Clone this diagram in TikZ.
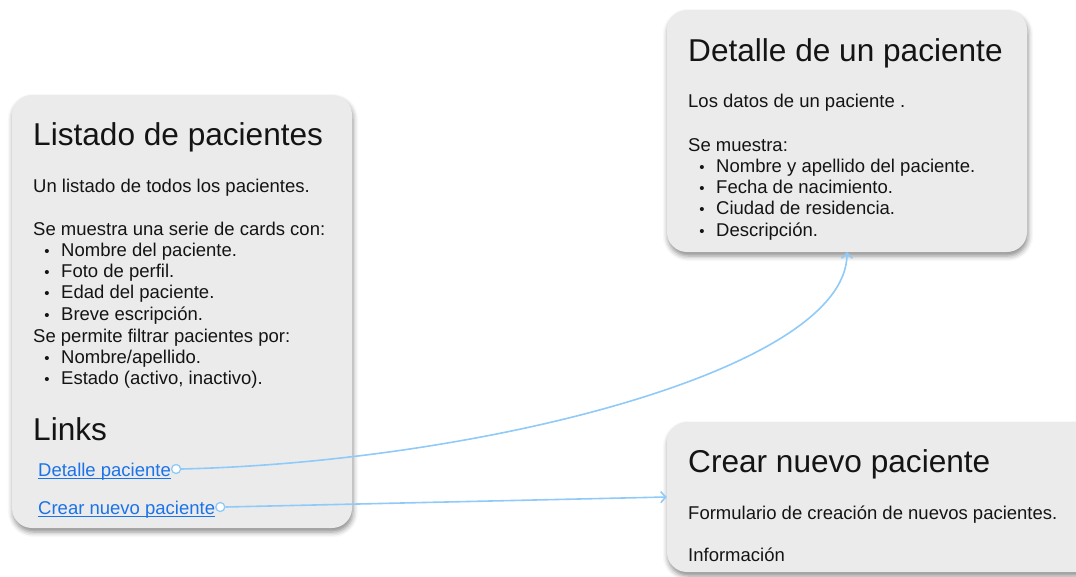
\documentclass[tikz,border=0pt]{standalone}
\usepackage{fontspec}
\setmainfont{Liberation Sans}
\usepackage{xcolor}
\usepackage{tikz}
\usetikzlibrary{arrows.meta, positioning, calc, shadows.blur}

\definecolor{cardgray}{HTML}{EBEBEB}
\definecolor{inkblack}{HTML}{141414}
\definecolor{linkblue}{HTML}{1A73E8}
\definecolor{flowblue}{HTML}{90CAF9}

\begin{document}
\begin{tikzpicture}[
    x=1pt, y=-1pt,
    card/.style={rectangle, fill=cardgray, rounded corners=20pt,
                 blur shadow={shadow xshift=1pt, shadow yshift=-4pt,
                              shadow blur radius=5pt, shadow opacity=45}},
    heading/.style={anchor=base west, inner sep=0pt, text=inkblack,
                    font=\fontsize{31.6}{38}\selectfont},
    body/.style={anchor=base west, inner sep=0pt, text=inkblack,
                 font=\fontsize{18.5}{22}\selectfont},
    dot/.style={anchor=base, inner sep=0pt, text=inkblack,
                font=\fontsize{15}{18}\selectfont},
    link/.style={body, text=linkblue},
    port/.style={circle, draw=flowblue, fill=white, line width=1.3pt,
                 inner sep=0pt, minimum size=9pt},
    flow/.style={draw=flowblue, line width=1.6pt,
                 -{Straight Barb[length=5pt, width=11pt]}}
]
\useasboundingbox (0,0) rectangle (1076,576);

% cards
\node[card, minimum width=340pt, minimum height=433pt] (listado) at (182,311.5) {};
\node[card, minimum width=360pt, minimum height=242pt] (detalle) at (847,131) {};
\node[card, minimum width=440pt, minimum height=150pt] (crear) at (887,497) {};

% listado de pacientes
\node[heading] (listtitle) at (33,145) {Listado de pacientes};
\node[body] (listintro) at (33,192) {Un listado de todos los pacientes.};
\node[body] (listshow) at (33,235) {Se muestra una serie de cards con:};
\foreach \txt [count=\i] in {Nombre del paciente., Foto de perfil.,
                             Edad del paciente., Breve escripción.} {
  \node[dot] (listdot\i) at (47,235+21.3*\i) {•};
  \node[body] (listitem\i) at (61,235+21.3*\i) {\txt};
}
\node[body] (listfilter) at (33,342) {Se permite filtrar pacientes por:};
\node[dot] (filterdot1) at (47,363.3) {•};
\node[body] (filteritem1) at (61,363.3) {Nombre/apellido.};
\node[dot] (filterdot2) at (47,384.6) {•};
\node[body] (filteritem2) at (61,384.6) {Estado (activo, inactivo).};

\node[heading] (linkstitle) at (33,440) {Links};
\node[link] (dlink) at (38,476) {Detalle paciente};
\node[link] (clink) at (38,514) {Crear nuevo paciente};
\draw[linkblue, line width=1pt] ($(dlink.base west)+(0,2.5)$) -- ($(dlink.base east)+(0,2.5)$);
\draw[linkblue, line width=1pt] ($(clink.base west)+(0,2.5)$) -- ($(clink.base east)+(0,2.5)$);
\node[port] (dport) at ($(dlink.base east)+(5,-7)$) {};
\node[port] (cport) at ($(clink.base east)+(5,-7)$) {};

% detalle de un paciente
\node[heading] (dettitle) at (688,61) {Detalle de un paciente};
\node[body] (detintro) at (688,107) {Los datos de un paciente .};
\node[body] (detshow) at (688,151) {Se muestra:};
\foreach \txt [count=\i] in {Nombre y apellido del paciente., Fecha de nacimiento.,
                             Ciudad de residencia., Descripción.} {
  \node[dot] (detdot\i) at (702,151+21.3*\i) {•};
  \node[body] (detitem\i) at (716,151+21.3*\i) {\txt};
}

% crear nuevo paciente
\node[heading] (creartitle) at (688,472) {Crear nuevo paciente};
\node[body] (crearform) at (688,519) {Formulario de creación de nuevos pacientes.};
\node[body] (crearinfo) at (688,561) {Información};

% links
\draw[flow] (dport.east) .. controls (480,462) and (847,370) .. (detalle.south);
\draw[flow] (cport.east) -- (crear.west);

\end{tikzpicture}
\end{document}
